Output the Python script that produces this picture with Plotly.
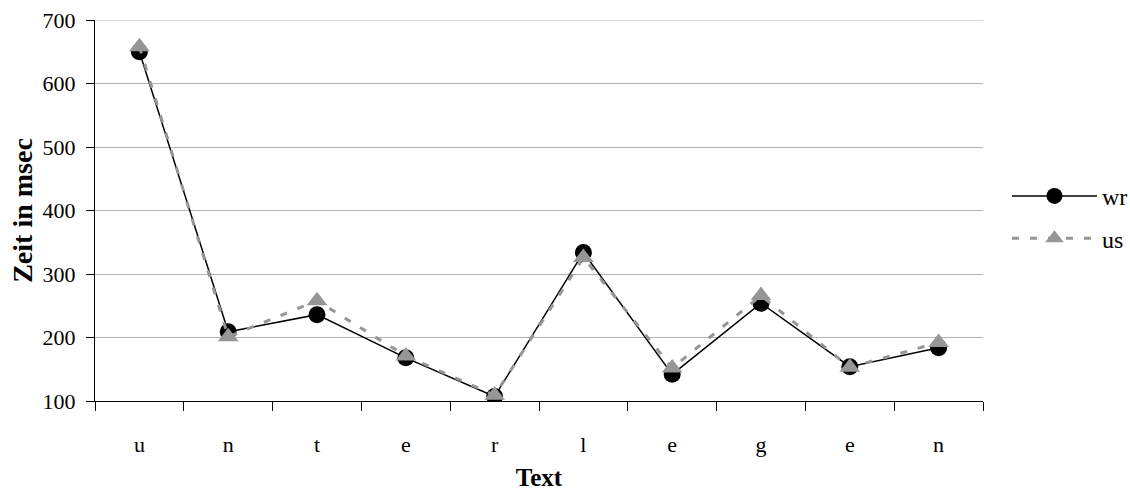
import plotly.graph_objects as go

letters = ["u", "n", "t", "e", "r", "l", "e", "g", "e", "n"]
wr = [650, 209, 236, 168, 107, 334, 142, 254, 154, 184]
us = [658, 201, 258, 171, 109, 326, 152, 266, 153, 192]
y_ticks = [100, 200, 300, 400, 500, 600, 700]

idx = list(range(len(letters)))
FONT = "Liberation Serif"

fig = go.Figure()
fig.add_trace(go.Scatter(
    x=idx, y=wr, name="wr", mode="lines+markers", legendgroup="a",
    line=dict(color="black", width=1.5),
    marker=dict(symbol="circle", size=17, color="black"),
))
fig.add_trace(go.Scatter(
    x=idx, y=us, name="us", mode="lines+markers", legendgroup="b",
    line=dict(color="#969696", width=3, dash="7px,11px"),
    marker=dict(symbol="triangle-up", size=18, color="#969696"),
))

fig.update_layout(
    width=1130, height=491,
    margin=dict(l=95, r=147, t=20, b=90, autoexpand=False),
    paper_bgcolor="white", plot_bgcolor="white",
    font=dict(family=FONT, size=22, color="black"),
    showlegend=True,
    legend=dict(
        x=1.027, y=0.482, xanchor="left", yanchor="middle",
        font=dict(family=FONT, size=24, color="black"),
        itemwidth=85, tracegroupgap=8,
        bgcolor="rgba(0,0,0,0)",
    ),
    xaxis=dict(
        range=[-0.5, 9.5], automargin=False,
        tickmode="array", tickvals=idx, ticktext=letters,
        ticks="", showgrid=False, zeroline=False,
        showline=True, linecolor="black", linewidth=1,
        ticklabelstandoff=24, ticklabeloverflow="allow",
        tickfont=dict(family=FONT, size=22),
        minor=dict(tick0=-0.5, dtick=1, ticks="outside", ticklen=9,
                   tickcolor="black", tickwidth=1, showgrid=False),
        title=dict(text="<b>Text</b>", font=dict(family=FONT, size=25), standoff=13),
        fixedrange=True,
    ),
    yaxis=dict(
        range=[100, 700], tickmode="array", tickvals=y_ticks, automargin=False,
        ticks="outside", ticklen=8, tickcolor="black", tickwidth=1,
        showline=True, linecolor="black", linewidth=1,
        showgrid=True, gridcolor="#b3b3b3", gridwidth=1,
        zeroline=False, ticklabelstandoff=6, ticklabeloverflow="allow",
        tickfont=dict(family=FONT, size=22),
        title=dict(text="<b>Zeit in msec</b>", font=dict(family=FONT, size=28), standoff=1),
        fixedrange=True,
    ),
)
# top gridline (plotly drops the grid line lying on the plot edge)
fig.add_shape(type="line", xref="paper", yref="y", x0=0, x1=1,
              y0=max(y_ticks), y1=max(y_ticks),
              line=dict(color="#b3b3b3", width=1), layer="below")

fig.write_html(
    "out.html",
    config={"displayModeBar": False},
    post_script="document.body.style.margin='0';document.body.style.overflow='hidden';",
)
